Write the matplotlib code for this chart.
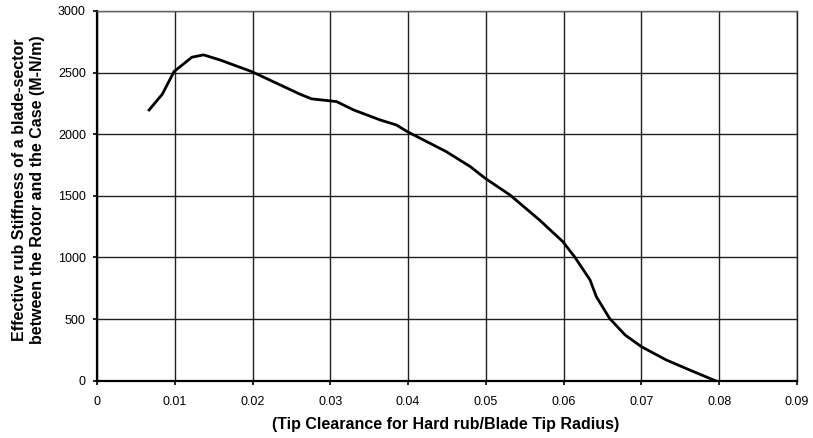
import matplotlib
matplotlib.use("Agg")
import matplotlib.pyplot as plt
import numpy as np
from matplotlib import rcParams

rcParams['font.family'] = 'sans-serif'
rcParams['font.sans-serif'] = ['Liberation Sans', 'DejaVu Sans']

# Tip clearance ratio vs effective rub stiffness
clearance = [0.0067, 0.0084, 0.0099, 0.0122, 0.0137, 0.0158, 0.0199, 0.0261,
             0.0276, 0.0308, 0.0330, 0.0364, 0.0385, 0.0399, 0.0449, 0.0480,
             0.0499, 0.0531, 0.0569, 0.0599, 0.0614, 0.0634, 0.0642, 0.0659,
             0.0679, 0.0700, 0.0732, 0.0762, 0.0795]
stiffness = [2197, 2325, 2508, 2625, 2644, 2603, 2508, 2325,
             2287, 2265, 2197, 2116, 2075, 2021, 1859, 1737,
             1643, 1507, 1304, 1128, 1006, 817, 682, 506,
             371, 276, 168, 87, 0]

xticks = np.round(np.arange(0, 0.0901, 0.01), 2)
xticklabels = ["0"] + [f"{v:.2f}" for v in xticks[1:]]
yticks = np.arange(0, 3001, 500)

fig = plt.figure(figsize=(8.13, 4.38), dpi=100)
ax = fig.add_axes([0.1193, 0.1308, 0.8610, 0.8441])

ax.plot(clearance, stiffness, color="black", lw=2.0, zorder=3)

ax.set_xlim(0, 0.09)
ax.set_ylim(0, 3000)
ax.set_xticks(xticks)
ax.set_xticklabels(xticklabels)
ax.set_yticks(yticks)
ax.grid(True, color="#202020", lw=1.0, zorder=1)

for side in ["left", "bottom"]:
    ax.spines[side].set_linewidth(1.6)
    ax.spines[side].set_color("black")
ax.spines["top"].set_color("#606060")
ax.spines["right"].set_color("#202020")
ax.spines["top"].set_linewidth(1.0)
ax.spines["right"].set_linewidth(1.0)

ax.tick_params(axis="both", direction="out", length=3, width=1.2,
               labelsize=9, colors="black")
ax.tick_params(axis="x", pad=8)
ax.tick_params(axis="y", pad=5)

### axis titles placed in figure coords to match the reference
fig.text(446 / 813, 1 - 424 / 438, "(Tip Clearance for Hard rub/Blade Tip Radius)",
         fontsize=11.5, fontweight="bold", ha="center", va="center")
fig.text(28.5 / 813, 1 - 190 / 438,
         "Effective rub Stiffness of a blade-sector\nbetween the Rotor and the Case (M-N/m)",
         fontsize=11.5, fontweight="bold", ha="center", va="center",
         rotation=90, multialignment="center", linespacing=1.3)

plt.savefig("out.png", dpi=100)
